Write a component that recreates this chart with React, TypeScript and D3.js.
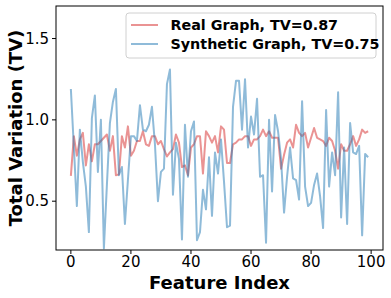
import React from "react";
import * as d3 from "d3";

// total variation per feature
const realTV = [
  0.656, 0.9, 0.78, 0.88, 0.92, 0.72, 0.85, 0.745, 0.85, 0.85,
  0.87, 0.89, 0.91, 0.81, 0.9, 0.66, 0.665, 0.9, 0.83, 0.96,
  0.78, 0.81, 0.87, 0.87, 0.93, 0.85, 0.84, 0.9, 0.9, 0.85,
  0.87, 0.82, 0.775, 0.8, 0.82, 0.91, 0.86, 0.71, 0.72, 0.66,
  0.83, 0.85, 0.9, 0.9, 0.67, 0.93, 0.9, 0.86, 0.9, 0.8,
  0.96, 0.94, 0.735, 0.735, 0.85, 0.86, 0.88, 0.88, 0.9, 0.9,
  0.84, 0.88, 0.88, 0.9, 0.94, 0.9, 0.93, 0.89, 0.89, 0.89,
  0.7, 0.785, 0.86, 0.88, 0.83, 0.97, 0.92, 0.9, 0.92, 0.83,
  0.89, 0.95, 0.89, 0.88, 0.87, 0.84, 0.89, 0.87, 0.81, 0.7,
  0.85, 0.81, 0.81, 0.85, 0.9, 0.84, 0.88, 0.94, 0.92, 0.93,
];

const syntheticTV = [
  1.19, 0.83, 0.47, 0.94, 0.74, 0.59, 0.31, 1.01, 1.15, 0.68,
  1.0, 0.21, 0.6, 0.98, 1.11, 1.19, 0.66, 0.71, 0.36, 0.63,
  0.9, 0.9, 0.87, 1.09, 0.94, 0.93, 0.97, 1.08, 0.85, 0.5,
  0.68, 0.7, 1.22, 1.31, 0.54, 0.86, 0.76, 0.265, 0.97, 0.65,
  0.93, 0.99, 0.26, 0.31, 0.57, 0.45, 0.77, 0.41, 0.8, 0.67,
  0.88, 0.62, 0.34, 0.35, 1.08, 1.24, 1.24, 0.94, 1.25, 0.83,
  1.02, 0.91, 1.13, 0.65, 0.66, 0.245, 1.0, 0.56, 1.03, 0.93,
  0.76, 0.43, 0.65, 0.83, 0.64, 0.63, 0.51, 1.115, 0.59, 0.47,
  0.49, 0.6, 0.67, 0.53, 0.335, 1.06, 0.59, 0.8, 0.66, 1.17,
  0.4, 0.83, 0.36, 0.98, 0.8, 0.79, 0.84, 0.29, 0.79, 0.77,
];

const seriesNames = ["Real Graph, TV=0.87", "Synthetic Graph, TV=0.75"];
const seriesColors = ["#d62728", "#1f77b4"];
const xTicks = [0, 20, 40, 60, 80, 100];
const yTicks = [0.5, 1.0, 1.5];

const width = 391;
const height = 298;
const margin = { top: 6, right: 8, bottom: 48, left: 56 };
const font = "DejaVu Sans";

export default function App() {
  const x = d3
    .scaleLinear()
    .domain([-4.95, 103.95])
    .range([margin.left, width - margin.right]);
  const y = d3
    .scaleLinear()
    .domain([0.2, 1.7])
    .range([height - margin.bottom, margin.top]);

  const line = d3
    .line<number>()
    .x((_, i) => x(i))
    .y((d) => y(d));

  const series = [realTV, syntheticTV];
  const plotBottom = height - margin.bottom;

  return (
    <svg
      width={width}
      height={height}
      style={{ position: "absolute", left: 0, top: 0, background: "#fff" }}
      fontFamily={font}
    >
      <defs>
        <clipPath id="plot">
          <rect
            x={margin.left}
            y={margin.top}
            width={width - margin.left - margin.right}
            height={plotBottom - margin.top}
          />
        </clipPath>
      </defs>

      <g clipPath="url(#plot)">
        {series.map((s, k) => (
          <path
            key={k}
            d={line(s) || ""}
            fill="none"
            stroke={seriesColors[k]}
            strokeOpacity={0.5}
            strokeWidth={2}
            strokeLinejoin="round"
          />
        ))}
      </g>

      <rect
        x={margin.left}
        y={margin.top}
        width={width - margin.left - margin.right}
        height={plotBottom - margin.top}
        fill="none"
        stroke="#000"
        strokeWidth={1}
      />

      {xTicks.map((t) => (
        <g key={t} transform={`translate(${x(t)},${plotBottom})`}>
          <line y2={4} stroke="#000" />
          <text y={17} textAnchor="middle" fontSize={15} fill="#000">
            {t}
          </text>
        </g>
      ))}
      {yTicks.map((t) => (
        <g key={t} transform={`translate(${margin.left},${y(t)})`}>
          <line x2={-4} stroke="#000" />
          <text x={-7} dy="0.35em" textAnchor="end" fontSize={15} fill="#000">
            {t.toFixed(1)}
          </text>
        </g>
      ))}

      <text
        x={(margin.left + width - margin.right) / 2}
        y={289}
        textAnchor="middle"
        fontSize={18}
        fontWeight="bold"
      >
        Feature Index
      </text>
      <text
        transform={`translate(22,${(margin.top + plotBottom) / 2}) rotate(-90)`}
        textAnchor="middle"
        fontSize={18}
        fontWeight="bold"
      >
        Total Variation (TV)
      </text>

      <g>
        <rect
          x={126}
          y={13}
          width={250}
          height={45}
          rx={3}
          fill="#fff"
          fillOpacity={0.8}
          stroke="#d0d0d0"
        />
        {seriesNames.map((name, k) => (
          <g key={name} transform={`translate(131,${25 + k * 19})`}>
            <line
              x2={27}
              stroke={seriesColors[k]}
              strokeOpacity={0.5}
              strokeWidth={2}
            />
            <text x={39.5} dy="0.36em" fontSize={14.3} fontWeight="bold">
              {name}
            </text>
          </g>
        ))}
      </g>
    </svg>
  );
}
